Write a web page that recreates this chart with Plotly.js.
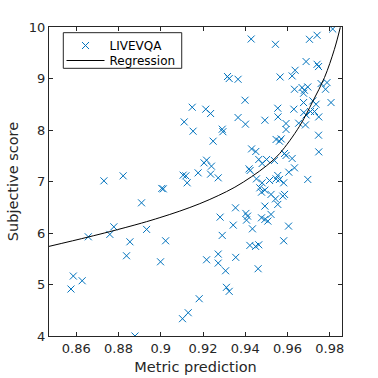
<!DOCTYPE html>
<html>
<head>
<meta charset="utf-8">
<script src="https://cdn.plot.ly/plotly-3.0.1.min.js"></script>
<style>html,body{margin:0;padding:0;background:#fff;}#chart{width:378px;height:378px;}</style>
</head>
<body>
<div id="chart"></div>
<script>
// Scatter data: metric prediction (x) vs subjective score (y)
const metricPrediction = [
0.8731,0.8822,0.8909,0.9005,0.9012,0.9106,0.9119,0.9125,0.9177,0.8657,
0.8759,0.8778,0.8854,0.8933,0.9023,0.8838,0.8999,0.8586,0.8628,0.8575,
0.9182,0.9130,0.9103,0.8878,0.9111,0.9149,0.9153,0.9428,0.9316,0.9324,
0.9366,0.9399,0.9213,0.9236,0.9366,0.9401,0.9493,0.9291,0.9294,0.9814,
0.9740,0.9704,0.9543,0.9688,0.9740,0.9747,0.9636,0.9622,0.9565,0.9759,
0.9787,0.9633,0.9669,0.9680,0.9696,0.9780,0.9676,0.9676,0.9720,0.9735,
0.9806,0.9554,0.9630,0.9677,0.9709,0.9728,0.9748,0.9688,0.9555,0.9593,
0.9653,0.9685,0.9248,0.9430,0.9450,0.9464,0.9480,0.9501,0.9217,0.9205,
0.9240,0.9418,0.9423,0.9272,0.9236,0.9453,0.9480,0.9469,0.9477,0.9493,
0.9493,0.9354,0.9403,0.9411,0.9406,0.9281,0.9477,0.9493,0.9343,0.9434,
0.9593,0.9747,0.9748,0.9546,0.9562,0.9570,0.9586,0.9593,0.9622,0.9633,
0.9538,0.9606,0.9554,0.9546,0.9562,0.9582,0.9515,0.9696,0.9522,0.9578,
0.9586,0.9543,0.9554,0.9522,0.9507,0.9605,0.9291,0.9422,0.9449,0.9464,
0.9217,0.9272,0.9272,0.9355,0.9307,0.9461,0.9311,0.9324,0.9582
];
const subjectiveScore = [
7.013,7.110,6.586,6.865,6.857,7.123,7.110,6.974,7.168,5.926,
5.973,6.120,5.829,6.070,5.849,5.558,5.441,5.164,5.073,4.912,
4.724,4.452,4.336,4.000,8.157,8.442,7.977,9.767,9.038,8.999,
8.985,8.578,8.404,8.320,8.242,8.113,8.190,8.016,7.967,9.961,
9.839,9.761,9.664,9.329,9.276,9.232,9.160,9.050,9.030,8.902,
8.921,8.791,8.824,8.772,8.836,8.791,8.714,8.533,8.565,8.500,
8.533,8.423,8.404,8.339,8.359,8.359,8.254,8.293,8.254,8.126,
8.132,8.099,7.783,7.633,7.583,7.428,7.350,7.428,7.414,7.362,
7.298,7.245,7.214,7.071,7.143,7.051,6.974,6.877,6.793,6.832,
6.522,6.489,6.380,6.328,6.250,6.308,6.295,6.264,6.153,6.081,
8.010,7.899,7.575,7.816,7.783,7.827,7.544,7.505,7.447,7.265,
7.408,7.181,7.117,7.051,7.040,6.974,7.020,7.040,6.749,6.716,
6.749,6.663,6.555,6.361,6.231,6.134,5.953,5.759,5.740,5.771,
5.480,5.591,5.416,5.527,5.267,5.306,4.945,4.867,5.849
];
// Regression curve
const regressionX = [0.8471,0.8655,0.8759,0.8909,0.8996,0.9090,0.9185,0.9272,0.9351,0.9430,0.9501,0.9562,0.9657,0.9720,0.9775,0.9822,0.9850];
const regressionY = [5.740,5.920,6.027,6.192,6.299,6.425,6.570,6.726,6.890,7.094,7.307,7.540,8.074,8.559,9.018,9.567,9.994];

const xTicks = [0.86,0.88,0.9,0.92,0.94,0.96,0.98];
const xTickLabels = ['0.86','0.88','0.9','0.92','0.94','0.96','0.98'];
const yTicks = [4,5,6,7,8,9,10];
const seriesNames = ['LIVEVQA', 'Regression'];

const axisColor = '#262626';
const fontFam = 'DejaVu Sans, sans-serif';

const traces = [
  {
    x: metricPrediction, y: subjectiveScore, type: 'scatter', mode: 'markers', name: seriesNames[0],
    marker: {symbol: 'x-thin-open', size: 7, color: '#0072BD', line: {width: 1, color: '#0072BD'}},
    hoverinfo: 'skip', legend: 'legend'
  },
  {
    x: regressionX, y: regressionY, type: 'scatter', mode: 'lines', name: seriesNames[1],
    line: {color: '#000000', width: 1, shape: 'spline'}, hoverinfo: 'skip', legend: 'legend2'
  }
];

const legendBase = {
  xanchor: 'left', yanchor: 'top',
  bgcolor: 'rgba(0,0,0,0)', borderwidth: 0,
  font: {family: fontFam, size: 12, color: '#000000'},
  itemwidth: 38
};

const layout = {
  width: 378, height: 378,
  margin: {l: 49, r: 36, t: 27, b: 42, pad: 0},
  paper_bgcolor: '#ffffff', plot_bgcolor: '#ffffff',
  font: {family: fontFam, size: 13, color: axisColor},
  showlegend: true,
  legend: Object.assign({}, legendBase, {x: 0.0427, y: 0.987}),
  legend2: Object.assign({}, legendBase, {x: 0.0427, y: 0.9385}),
  shapes: [{
    type: 'rect', xref: 'paper', yref: 'paper',
    x0: 0.0488, x1: 0.453, y0: 0.8663, y1: 0.9816,
    line: {color: axisColor, width: 1}, fillcolor: '#ffffff', layer: 'above'
  }],
  xaxis: {
    range: [0.8471, 0.9858], tickvals: xTicks, ticktext: xTickLabels,
    ticks: 'inside', ticklen: 4, tickwidth: 1, tickcolor: axisColor,
    showline: true, linecolor: axisColor, linewidth: 1, mirror: 'ticks',
    showgrid: false, zeroline: false,
    tickfont: {family: fontFam, size: 13, color: axisColor},
    title: {text: 'Metric prediction', font: {family: fontFam, size: 14.5, color: axisColor}, standoff: 7},
    automargin: false
  },
  yaxis: {
    range: [4, 10], tickvals: yTicks,
    ticks: 'inside', ticklen: 4, tickwidth: 1, tickcolor: axisColor,
    showline: true, linecolor: axisColor, linewidth: 1, mirror: 'ticks',
    showgrid: false, zeroline: false,
    tickfont: {family: fontFam, size: 13, color: axisColor},
    title: {text: 'Subjective score', font: {family: fontFam, size: 14.5, color: axisColor}, standoff: 6},
    automargin: false
  }
};

Plotly.newPlot('chart', traces, layout, {displayModeBar: false, staticPlot: true});
</script>
</body>
</html>
